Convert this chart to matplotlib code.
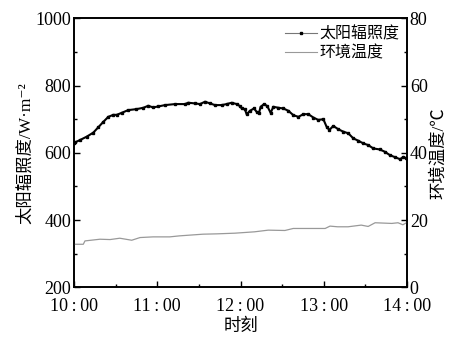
import matplotlib
matplotlib.use('Agg')
import matplotlib.pyplot as plt
from matplotlib.ticker import MultipleLocator

plt.rcParams['font.family'] = ['Liberation Serif', 'Noto Sans CJK SC', 'DejaVu Serif']

# irradiance, minutes after 10:00
irr_min = [0, 0.7, 4.3, 9.1, 13.9, 17.5, 21.1, 24.7, 28.3, 30.8, 34.4, 39, 45, 50,
           53.5, 57, 60.8, 65.6, 72.8, 80, 82.4, 87.2, 90.8, 94.4, 98, 101.6, 106.4,
           110, 113.6, 117.3, 119.6, 120.9, 123.2, 124.4, 126.8, 129.7, 131.6, 133.3,
           134.5, 137, 139.3, 141.7, 143.7, 147.3, 150.9, 154.5, 158.1, 161.7, 165.3,
           168.9, 172.5, 176, 179.7, 182, 184, 186.9, 190.5, 194.1, 197.7, 201.3,
           204.9, 208.5, 212.1, 215.7, 220.5, 224.1, 227.7, 231.4, 235, 237.4, 239.3, 240]
irr_val = [628, 631, 638, 648, 660, 676, 692, 707, 713, 713, 719, 727, 730, 734,
           740, 735, 738, 742, 745, 745, 749, 747, 745, 752, 747, 742, 742,
           745, 749, 745, 739, 732, 729, 715, 725, 732, 722, 718,
           737, 745, 739, 719, 737, 734, 732, 725, 712, 707, 715,
           715, 705, 698, 700, 678, 668, 680, 670, 663, 658, 643,
           636, 628, 623, 613, 610, 603, 593, 587, 581, 588, 584, 586]

# ambient temperature
tmp_min = [0, 6.7, 7.9, 18.7, 26, 33, 41.6, 47.6, 57, 69, 76, 93, 103, 116, 130, 140,
           152, 158, 181, 184.5, 190, 197.5, 207, 212, 217, 229, 233.5, 237, 240]
tmp_val = [12.8, 12.8, 13.8, 14.3, 14.2, 14.6, 14.0, 14.8, 15.0, 15.0, 15.3, 15.8, 15.9,
           16.1, 16.5, 17.0, 16.9, 17.5, 17.5, 18.2, 18.0, 18.0, 18.5, 18.1, 19.2, 19.0,
           19.2, 18.6, 19.3]

xticks = [0, 60, 120, 180, 240]
xticklabels = ['10\u2009:\u200900', '11\u2009:\u200900', '12\u2009:\u200900',
               '13\u2009:\u200900', '14\u2009:\u200900']

fig = plt.figure(figsize=(4.54, 3.40), dpi=100)
ax = fig.add_axes([0.163, 0.155, 0.7335, 0.791])
ax2 = ax.twinx()

l1, = ax.plot(irr_min, irr_val, color='black', lw=1.5, marker='s', ms=1.6,
              label='太阳辐照度')
l2, = ax2.plot(tmp_min, tmp_val, color='#999999', lw=0.9, label='环境温度')

ax.set_xlim(0, 240)
ax.set_ylim(200, 1000)
ax2.set_ylim(0, 80)
ax.set_xticks(xticks)
ax.set_xticklabels(xticklabels)
ax.xaxis.set_minor_locator(MultipleLocator(30))
ax.yaxis.set_major_locator(MultipleLocator(200))
ax.yaxis.set_minor_locator(MultipleLocator(100))
ax2.yaxis.set_major_locator(MultipleLocator(20))
ax2.yaxis.set_minor_locator(MultipleLocator(10))

for a in (ax, ax2):
    a.tick_params(which='both', direction='in', labelsize=13, width=1)
    a.tick_params(which='major', length=4)
    a.tick_params(which='minor', length=2.5)
    for s in a.spines.values():
        s.set_linewidth(1.2)
ax.tick_params(axis='y', right=False, pad=2)
ax.tick_params(axis='x', top=False, pad=8)
ax2.tick_params(axis='y', pad=2)

ax.set_ylabel('太阳辐照度/W·m\u207b\u00b2', fontsize=12.5, labelpad=1)
ax2.set_ylabel('环境温度/℃', fontsize=12.5, labelpad=2)
ax.set_xlabel('时刻', fontsize=12.5, labelpad=2)

leg = ax.legend([l1, l2], ['太阳辐照度', '环境温度'], loc='upper right', frameon=False,
                fontsize=11.5, handlelength=2.0, handletextpad=0.1, borderaxespad=0.1,
                labelspacing=0.2, markerscale=1.2)
for h in leg.get_lines():
    h.set_linewidth(0.8)
leg.get_lines()[0].set_color('#777777')
leg.get_lines()[0].set_markerfacecolor('black')
leg.get_lines()[0].set_markeredgecolor('black')

fig.savefig('out.png', dpi=100)
